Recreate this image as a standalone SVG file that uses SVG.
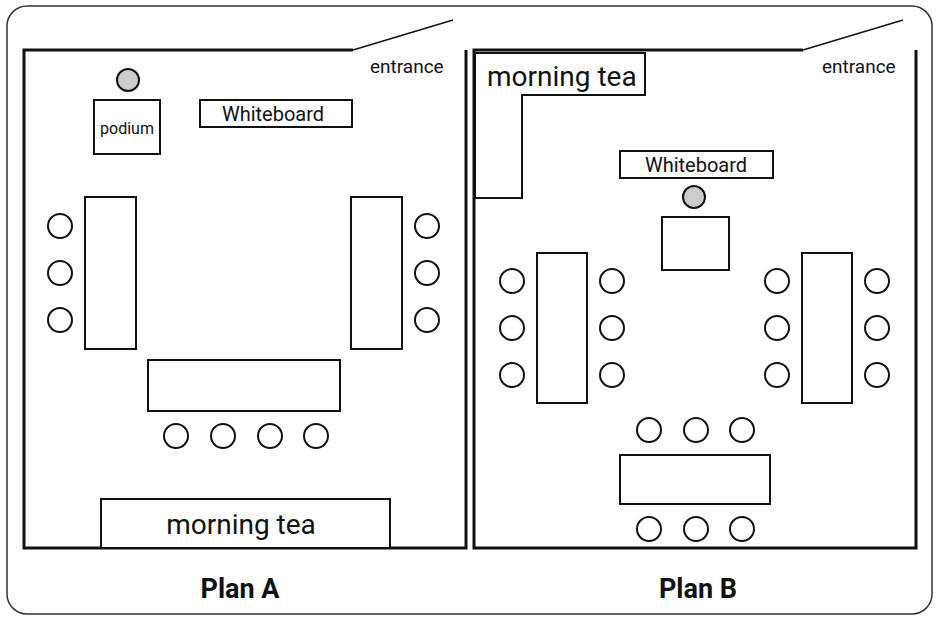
<svg xmlns="http://www.w3.org/2000/svg" width="940" height="623" viewBox="0 0 940 623">
<style>
.w{stroke:#111;stroke-width:3;fill:none}
.b{stroke:#111;stroke-width:2;fill:#fff}
.c{stroke:#111;stroke-width:2;fill:#fff}
.g{stroke:#111;stroke-width:2;fill:#ccc}
text{font-family:Roboto,"Liberation Sans",sans-serif;fill:#111}
</style>
<rect width="940" height="623" fill="#fff"/>
<rect x="7" y="6" width="925" height="608" rx="20" fill="none" stroke="#333" stroke-width="1.5"/>
<g id="planA">
<path class="w" d="M353,50 H24 V548 H466 V50"/>
<line x1="353" y1="50" x2="453" y2="20" stroke="#111" stroke-width="1.5"/>
<text x="370" y="73" font-size="19">entrance</text>
<circle class="g" cx="128" cy="80" r="11"/>
<rect class="b" x="94" y="100" width="66" height="54"/>
<text x="127" y="134" font-size="16" text-anchor="middle">podium</text>
<rect class="b" x="200" y="100" width="152" height="27"/>
<text x="273" y="121" font-size="20" text-anchor="middle">Whiteboard</text>
<rect class="b" x="85" y="197" width="51" height="152"/>
<rect class="b" x="351" y="197" width="51" height="152"/>
<circle class="c" cx="60" cy="226" r="12"/><circle class="c" cx="60" cy="273" r="12"/><circle class="c" cx="60" cy="320" r="12"/>
<circle class="c" cx="427" cy="226" r="12"/><circle class="c" cx="427" cy="273" r="12"/><circle class="c" cx="427" cy="320" r="12"/>
<rect class="b" x="148" y="360" width="192" height="51"/>
<circle class="c" cx="176" cy="436" r="12"/><circle class="c" cx="223" cy="436" r="12"/><circle class="c" cx="270" cy="436" r="12"/><circle class="c" cx="316" cy="436" r="12"/>
<rect class="b" x="101" y="499" width="289" height="49"/>
<text x="241" y="534" font-size="28" text-anchor="middle">morning tea</text>
</g>
<g id="planB">
<path class="w" d="M803,50 H474 V548 H916 V50"/>
<line x1="803" y1="50" x2="903" y2="20" stroke="#111" stroke-width="1.5"/>
<text x="822" y="73" font-size="19">entrance</text>
<path class="b" d="M475,53 H645 V95 H522 V198 H475 Z"/>
<text x="487" y="86" font-size="28">morning tea</text>
<rect class="b" x="620" y="151" width="153" height="27"/>
<text x="696" y="172" font-size="20" text-anchor="middle">Whiteboard</text>
<circle class="g" cx="694" cy="197" r="11"/>
<rect class="b" x="662" y="217" width="67" height="53"/>
<rect class="b" x="537" y="253" width="50" height="150"/>
<rect class="b" x="802" y="253" width="50" height="150"/>
<circle class="c" cx="512" cy="281" r="12"/><circle class="c" cx="512" cy="328" r="12"/><circle class="c" cx="512" cy="375" r="12"/>
<circle class="c" cx="612" cy="281" r="12"/><circle class="c" cx="612" cy="328" r="12"/><circle class="c" cx="612" cy="375" r="12"/>
<circle class="c" cx="777" cy="281" r="12"/><circle class="c" cx="777" cy="328" r="12"/><circle class="c" cx="777" cy="375" r="12"/>
<circle class="c" cx="877" cy="281" r="12"/><circle class="c" cx="877" cy="328" r="12"/><circle class="c" cx="877" cy="375" r="12"/>
<circle class="c" cx="649" cy="430" r="12"/><circle class="c" cx="696" cy="430" r="12"/><circle class="c" cx="742" cy="430" r="12"/>
<rect class="b" x="620" y="455" width="150" height="49"/>
<circle class="c" cx="649" cy="529" r="12"/><circle class="c" cx="696" cy="529" r="12"/><circle class="c" cx="742" cy="529" r="12"/>
</g>
<text x="240" y="598" font-size="27" font-weight="bold" text-anchor="middle">Plan A</text>
<text x="698" y="598" font-size="27" font-weight="bold" text-anchor="middle">Plan B</text>
</svg>
